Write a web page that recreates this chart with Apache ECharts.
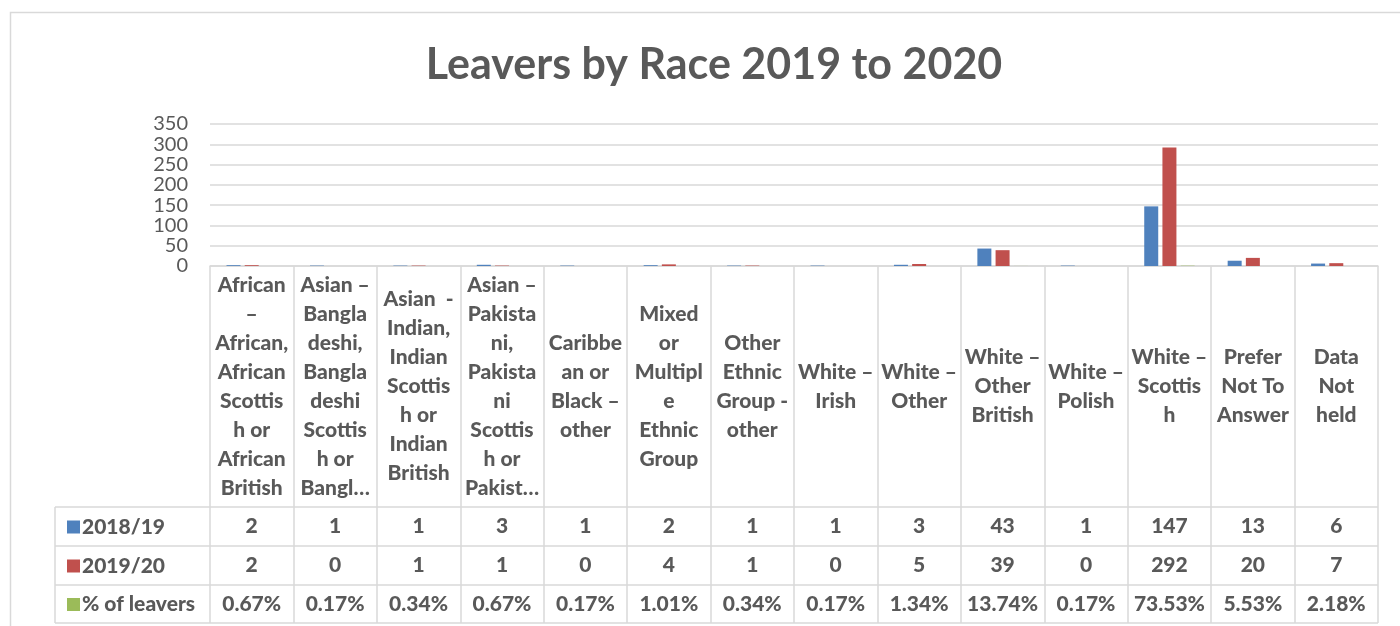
<!DOCTYPE html>
<html>
<head>
<meta charset="utf-8">
<script src="https://cdn.jsdelivr.net/npm/echarts@6/dist/echarts.min.js"></script>
<style>
  html, body { margin: 0; padding: 0; background: #fff; }
  #chart { width: 1400px; height: 626px; }
</style>
</head>
<body>
<div id="chart"></div>
<script>
// category names as wrapped in the source table
const categoryLabels = [
    "African\n–\nAfrican,\nAfrican\nScottis\nh or\nAfrican\nBritish",
    "Asian –\nBangla\ndeshi,\nBangla\ndeshi\nScottis\nh or\nBangl…",
    "Asian  -\nIndian,\nIndian\nScottis\nh or\nIndian\nBritish",
    "Asian –\nPakista\nni,\nPakista\nni\nScottis\nh or\nPakist…",
    "Caribbe\nan or\nBlack –\nother",
    "Mixed\nor\nMultipl\ne\nEthnic\nGroup",
    "Other\nEthnic\nGroup -\nother",
    "White –\nIrish",
    "White –\nOther",
    "White –\nOther\nBritish",
    "White –\nPolish",
    "White –\nScottis\nh",
    "Prefer\nNot To\nAnswer",
    "Data\nNot\nheld"
];
const leavers1819 = [2, 1, 1, 3, 1, 2, 1, 1, 3, 43, 1, 147, 13, 6];
const leavers1920 = [2, 0, 1, 1, 0, 4, 1, 0, 5, 39, 0, 292, 20, 7];
const pctLeavers = [0.0067, 0.0017, 0.0034, 0.0067, 0.0017, 0.0101, 0.0034, 0.0017, 0.0134, 0.1374, 0.0017, 0.7353, 0.0553, 0.0218];
const yTicks = { min: 0, max: 350, interval: 50 };

const seriesNames = ["2018/19", "2019/20", "% of leavers"];
const colors = ["#4f81bd", "#c0504d", "#9bbb59"];

const FONT = "Lato";
const TXT = "#595959";
const LINE = "#d9d9d9";
const BOLD = 900;

// layout of plot + data table
const gridLeft = 210, gridRight = 22, gridTop = 124, gridH = 142;
const axisY = gridTop + gridH;      // 266
const rowTops = [507, 546, 585, 623];
const tableLeft = 55;
const tableRight = 1400 - gridRight;

const chart = echarts.init(document.getElementById("chart"));

function fmtPct(v) {
    return (v * 100).toFixed(2) + "%";
}

function rowMid(i) {
    return (rowTops[i] + rowTops[i + 1]) / 2;
}

function rowAxis(values, rowIdx, fmt) {
    return {
        type: "category",
        gridIndex: 0,
        position: "bottom",
        data: categoryLabels,
        axisLine: { show: false },
        axisTick: { show: false },
        axisLabel: {
            interval: 0,
            margin: rowMid(rowIdx) - axisY,
            verticalAlign: "middle",
            fontFamily: FONT,
            fontWeight: BOLD,
            fontSize: 21,
            color: TXT,
            formatter: function (v, i) { return fmt ? fmt(values[i]) : String(values[i]); }
        }
    };
}

// one legend per table row so each key sits in its own row
const legends = seriesNames.map(function (name, i) {
    return {
        left: 62,
        top: rowMid(i) - 15,
        itemWidth: 13,
        itemHeight: 13,
        icon: "rect",
        selectedMode: false,
        data: [name],
        textStyle: { fontFamily: FONT, fontWeight: BOLD, fontSize: 21, color: TXT, padding: [0, 0, 0, -3] }
    };
});

const hLines = rowTops.map(function (y) {
    return {
        type: "line",
        shape: { x1: tableLeft, y1: y, x2: tableRight, y2: y },
        style: { stroke: LINE, lineWidth: 1.5 }
    };
});

const option = {
    backgroundColor: "#fff",
    animation: false,
    color: colors,
    title: {
        text: "Leavers by Race 2019 to 2020",
        left: 709,
        textAlign: "center",
        top: 39,
        textStyle: { fontFamily: FONT, fontWeight: "bold", fontSize: 43, color: TXT }
    },
    legend: legends,
    grid: { left: gridLeft, right: gridRight, top: gridTop, height: gridH, containLabel: false },
    xAxis: [
        {
            type: "category",
            gridIndex: 0,
            position: "bottom",
            data: categoryLabels,
            axisLine: { show: true, lineStyle: { color: LINE, width: 1.5 } },
            axisTick: { show: true, length: rowTops[3] - axisY, lineStyle: { color: LINE, width: 1.5 } },
            axisLabel: {
                interval: 0,
                margin: (rowTops[0] + axisY) / 2 - axisY,
                verticalAlign: "middle",
                align: "center",
                fontFamily: FONT,
                fontWeight: BOLD,
                fontSize: 21,
                lineHeight: 29,
                color: TXT
            }
        },
        rowAxis(leavers1819, 0),
        rowAxis(leavers1920, 1),
        rowAxis(pctLeavers, 2, fmtPct)
    ],
    yAxis: {
        type: "value",
        min: yTicks.min,
        max: yTicks.max,
        interval: yTicks.interval,
        axisLine: { show: false },
        axisTick: { show: false },
        splitLine: { lineStyle: { color: LINE, width: 1.5 } },
        axisLabel: { fontFamily: FONT, fontSize: 20, color: TXT, margin: 22 }
    },
    series: [
        { name: seriesNames[0], type: "bar", data: leavers1819, barWidth: 14, barGap: "30%" },
        { name: seriesNames[1], type: "bar", data: leavers1920, barWidth: 14, barGap: "30%" },
        { name: seriesNames[2], type: "bar", data: pctLeavers, barWidth: 14, barGap: "30%" }
    ],
    graphic: [
        {
            type: "rect",
            shape: { x: 10.5, y: 12.5, width: 1420, height: 640 },
            style: { fill: null, stroke: LINE, lineWidth: 1.5 }
        },
        {
            type: "line",
            shape: { x1: tableLeft, y1: rowTops[0], x2: tableLeft, y2: rowTops[3] },
            style: { stroke: LINE, lineWidth: 1.5 }
        }
    ].concat(hLines)
};

chart.setOption(option);
</script>
</body>
</html>
